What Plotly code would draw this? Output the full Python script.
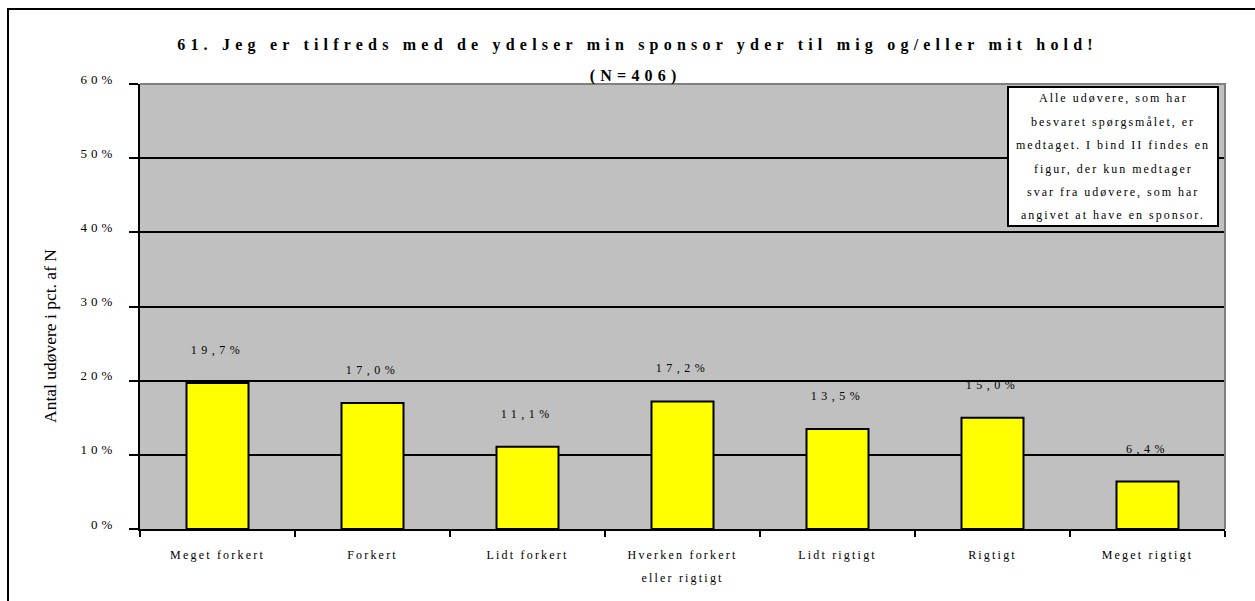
import plotly.graph_objects as go

categories = ["Meget forkert", "Forkert", "Lidt forkert", "Hverken forkert<br>eller rigtigt",
              "Lidt rigtigt", "Rigtigt", "Meget rigtigt"]
values = [19.7, 17.0, 11.1, 17.2, 13.5, 15.0, 6.4]
value_labels = ["19,7%", "17,0%", "11,1%", "17,2%", "13,5%", "15,0%", "6,4%"]
y_ticks = [0, 10, 20, 30, 40, 50, 60]
y_ticktext = ["0%", "10%", "20%", "30%", "40%", "50%", "60%"]
title_lines = ["61. Jeg er tilfreds med de ydelser min sponsor yder til mig og/eller mit hold!", "(N=406)"]
note_lines = ["Alle udøvere, som har", "besvaret spørgsmålet, er", "medtaget. I bind II findes en",
              "figur, der kun medtager", "svar fra udøvere, som har", "angivet at have en sponsor."]
y_title = "Antal udøvere i pct. af N"

W, H = 1255, 601
ML, MR, MT, MB = 140, 30, 84, 72
PW, PH = W - ML - MR, H - MT - MB


def px(x):
    return (x - ML) / PW


def py(y):
    return (H - MB - y) / PH


SERIF = "Liberation Serif, Times New Roman, serif"

fig = go.Figure()
fig.add_trace(go.Bar(
    x=categories, y=values, width=0.4,
    marker=dict(color="#FFFF00", line=dict(color="black", width=2)),
    hoverinfo="skip",
))

annotations = []
for c, v, t in zip(categories, values, value_labels):
    annotations.append(dict(x=c, y=v, text=t, showarrow=False, yanchor="middle", yshift=33,
                            font=dict(family=SERIF, size=12, color="black")))

# title lines
annotations.append(dict(xref="paper", yref="paper", x=px(637), y=py(45), text="<b>%s</b>" % title_lines[0],
                        showarrow=False, xanchor="center", yanchor="middle",
                        font=dict(family=SERIF, size=16, color="black")))
annotations.append(dict(xref="paper", yref="paper", x=px(635), y=py(76), text="<b>%s</b>" % title_lines[1],
                        showarrow=False, xanchor="center", yanchor="middle",
                        font=dict(family=SERIF, size=16, color="black")))
# note lines
for i, line in enumerate(note_lines):
    annotations.append(dict(xref="paper", yref="paper", x=px(1113), y=py(98 + i * 23.5), text=line,
                            showarrow=False, xanchor="center", yanchor="middle",
                            font=dict(family=SERIF, size=12, color="black")))
# y title
annotations.append(dict(xref="paper", yref="paper", x=px(50), y=py(336), text=y_title, textangle=-90,
                        showarrow=False, xanchor="center", yanchor="middle",
                        font=dict(family=SERIF, size=17.5, color="black")))

shapes = [
    # gray top/right plot border
    dict(type="path", xref="paper", yref="paper", path="M 0,1 L 1,1 L 1,0",
         line=dict(color="#808080", width=2), layer="above"),
    # note box
    dict(type="rect", xref="paper", yref="paper", x0=px(1008), x1=px(1218), y0=py(226), y1=py(87),
         fillcolor="white", line=dict(color="black", width=2), layer="above"),
    # outer chart frame (top and left)
    dict(type="path", xref="paper", yref="paper",
         path="M %f,%f L %f,%f L %f,%f" % (px(8), py(H + 5), px(8), py(9), px(W + 5), py(9)),
         line=dict(color="black", width=2), layer="above"),
]

fig.update_layout(
    width=W, height=H,
    margin=dict(l=ML, r=MR, t=MT, b=MB, pad=0),
    paper_bgcolor="white", plot_bgcolor="#C0C0C0",
    showlegend=False,
    bargap=0.6,
    annotations=annotations,
    shapes=shapes,
    font=dict(family=SERIF, size=12, color="black"),
)
fig.update_xaxes(
    showline=True, linecolor="black", linewidth=2,
    ticks="outside", ticklen=6, tickwidth=2, tickcolor="black", tickson="boundaries",
    showgrid=False, ticklabelstandoff=14,
    tickfont=dict(family=SERIF, size=12, color="black"),
)
fig.update_yaxes(
    range=[0, 60], tickvals=y_ticks, ticktext=y_ticktext,
    showline=True, linecolor="black", linewidth=2,
    ticks="outside", ticklen=9, tickwidth=2, tickcolor="black",
    showgrid=True, gridcolor="black", gridwidth=2, zeroline=False,
    ticklabelstandoff=10, ticklabelshift=-5,
    tickfont=dict(family=SERIF, size=13, color="black"),
)

post = """
var s=document.createElement('style');
s.textContent='html,body{margin:0;padding:0} '
 + '.xtick text{letter-spacing:2.2px} .ytick text{letter-spacing:4px} '
 + 'g.annotation text{letter-spacing:2px} '
 + 'g.annotation[data-index="7"] text, g.annotation[data-index="8"] text{letter-spacing:5.2px} '
 + 'g.annotation[data-index="15"] text{letter-spacing:0px} '
 + 'g.annotation[data-index="0"] text, g.annotation[data-index="1"] text, g.annotation[data-index="2"] text,'
 + 'g.annotation[data-index="3"] text, g.annotation[data-index="4"] text, g.annotation[data-index="5"] text,'
 + 'g.annotation[data-index="6"] text{letter-spacing:4.5px}';
document.head.appendChild(s);
document.querySelectorAll('.xtick text tspan.line').forEach(function(t){
  if (t.getAttribute('dy') && t.getAttribute('dy') !== '0em') { t.setAttribute('dy','1.9em'); }
});
"""

fig.write_html("out.html", post_script=post, config={"displayModeBar": False})
